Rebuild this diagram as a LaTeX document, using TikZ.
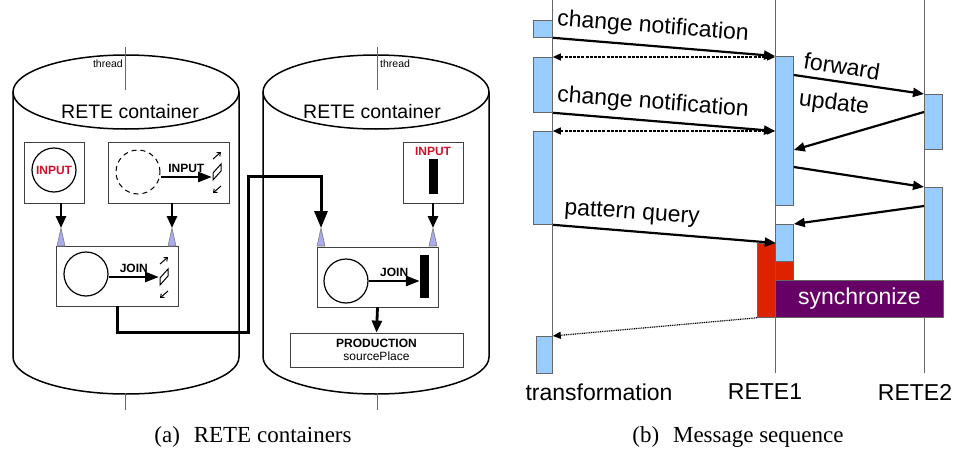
\documentclass[tikz,border=0pt]{standalone}
\usepackage{fontspec}
\setmainfont{Liberation Serif}
\setsansfont{Liberation Sans}
\usepackage{xcolor}
\usepackage{tikz}
\usetikzlibrary{arrows.meta}

\definecolor{actblue}{HTML}{99CCFF}
\definecolor{syncred}{HTML}{DD2200}
\definecolor{syncpurple}{HTML}{660066}
\definecolor{portblue}{HTML}{AAAAEE}
\definecolor{inred}{HTML}{D0102A}

\begin{document}
\begin{tikzpicture}[x=1pt, y=-1pt, font=\sffamily,
    cyl/.style={line width=1.5pt},
    thr/.style={black!60, line width=1pt},
    thrlbl/.style={inner sep=1pt, font=\sffamily\fontsize{10.5}{11}\selectfont},
    cont/.style={font=\sffamily\fontsize{19.5}{20}\selectfont},
    box/.style={draw=black!75, line width=0.8pt, inner sep=0pt},
    circ/.style={circle, draw, line width=1.2pt, minimum size=44pt, inner sep=0pt},
    bar/.style={fill=black, inner sep=0pt},
    lbl/.style={inner sep=1pt, font=\sffamily\bfseries\fontsize{12}{13}\selectfont},
    port/.style={fill=portblue, draw=black!50, line width=0.6pt},
    feed/.style={line width=2.8pt, -{Triangle[length=12pt, width=10pt]}},
    inarr/.style={line width=2.8pt, -{Triangle[length=14pt, width=10pt]}},
    link/.style={line width=3pt, -{Triangle[length=17pt, width=13pt]}},
    memsym/.pic={
        \draw[line width=1pt, -{Straight Barb[length=3pt, width=5pt]}] (-4,-13) -- (4,-20);
        \draw[line width=1pt] (-4,8) -- (-4,1) -- (4,-8) -- (4,-1) -- cycle;
        \draw[line width=1pt, -{Straight Barb[length=3pt, width=5pt]}] (4,14) -- (-4,21);
    },
    life/.style={black!60, line width=0.8pt},
    act/.style={draw=black!60, fill=actblue, line width=0.8pt, inner sep=0pt, anchor=north west},
    seqlbl/.style={inner sep=0pt, font=\sffamily\fontsize{23}{24}\selectfont},
    msg/.style={line width=2.2pt, -{Triangle[length=11pt, width=9pt]}},
    ret/.style={line width=1.4pt, dash pattern=on 3pt off 1.2pt,
        {Triangle[length=8pt, width=7pt]}-{Triangle[length=8pt, width=7pt]}},
    rep/.style={line width=1.2pt, dash pattern=on 1pt off 0.8pt, -{Triangle[length=8pt, width=7pt]}},
    captxt/.style={font=\rmfamily\fontsize{23}{24}\selectfont}]

    \useasboundingbox (0,0) rectangle (954,450);

    % (a) first RETE container
    \draw[cyl] (13,92) -- (13,357) arc[start angle=180, end angle=0, x radius=113, y radius=37] -- (239,92);
    \draw[cyl] (126,92) ellipse[x radius=113, y radius=37];
    \draw[thr] (125,47) -- (125,90);
    \draw[thr] (125,393) -- (125,410);
    \node[thrlbl, anchor=east] (th1) at (124,64) {thread};
    \node[cont] (rc1) at (130,112) {RETE container};

    \node[box, minimum width=60pt, minimum height=61pt] (in1) at (54,172.5) {};
    \node[circ, text=inred, font=\sffamily\bfseries\fontsize{12}{13}\selectfont] (c1) at (54,170) {INPUT};

    \node[box, minimum width=121pt, minimum height=61pt] (in2) at (168.5,172.5) {};
    \node[circ, line width=1pt, dash pattern=on 5pt off 4pt] (c2) at (138,172) {};
    \coordinate (m1) at (212,177);
    \draw[inarr] (c2.east |- m1) -- node[lbl, above=1.5pt] (l2) {INPUT} (m1);
    \pic at (217,172) {memsym};

    \node[box, minimum width=122pt, minimum height=60pt] (j1) at (117,276) {};
    \node[circ] (c3) at (86,274) {};
    \coordinate (m2) at (159,277);
    \draw[inarr] (c3.east |- m2) -- node[lbl, above=1.5pt] (l3) {JOIN} (m2);
    \pic at (164,277) {memsym};

    \coordinate (p1) at (61,228);
    \coordinate (p2) at (172,228);
    \filldraw[port] (p1) -- ++(-4,18) -- ++(8,0) -- cycle;
    \filldraw[port] (p2) -- ++(-4,18) -- ++(8,0) -- cycle;
    \draw[feed] (in1.south -| p1) -- (p1);
    \draw[feed] (in2.south -| p2) -- (p2);

    % (a) second RETE container
    \draw[cyl] (263,92) -- (263,357) arc[start angle=180, end angle=0, x radius=113, y radius=37] -- (489,92);
    \draw[cyl] (376,92) ellipse[x radius=113, y radius=37];
    \draw[thr] (377,47) -- (377,90);
    \draw[thr] (377,393) -- (377,410);
    \node[thrlbl, anchor=west] (th2) at (379,64) {thread};
    \node[cont] (rc2) at (372,112) {RETE container};

    \node[box, minimum width=60pt, minimum height=61pt] (in3) at (433,172.5) {};
    \node[lbl, text=inred] (l4) at (433,151) {INPUT};
    \node[bar, minimum width=9pt, minimum height=35pt] (b1) at (433.5,176.5) {};

    \node[box, minimum width=121pt, minimum height=60pt] (j2) at (377.5,277) {};
    \node[circ] (c4) at (346,281) {};
    \node[bar, minimum width=9pt, minimum height=43pt] (b2) at (424.5,276.5) {};
    \draw[inarr] (c4.east) -- node[lbl, above=1.5pt] (l5) {JOIN} (b2.west |- c4.east);

    \node[box, minimum width=173pt, minimum height=34pt, align=center,
        font=\sffamily\fontsize{12}{13}\selectfont] (pr) at (376.5,350) {\textbf{PRODUCTION}\\sourcePlace};
    \draw[feed] (j2.south) -- (pr.north);

    \coordinate (p3) at (321,228);
    \coordinate (p4) at (433,228);
    \filldraw[port] (p3) -- ++(-4,18) -- ++(8,0) -- cycle;
    \filldraw[port] (p4) -- ++(-4,18) -- ++(8,0) -- cycle;
    \draw[feed] (in3.south -| p4) -- (p4);

    % thread link between the containers
    \coordinate (k1) at (248,332);
    \coordinate (k2) at (248,176);
    \draw[link] (j1.south) |- (k1) -- (k2) -| (p3);

    \node[captxt] (capa) at (253,437) {(a)\hspace{0.6em}RETE containers};

    % (b) lifelines
    \coordinate (trtop) at (552,0);
    \coordinate (trbot) at (552,373);
    \coordinate (r1top) at (775,0);
    \coordinate (r1bot) at (775,373);
    \coordinate (r2top) at (924,0);
    \coordinate (r2bot) at (924,373);
    \draw[life] (trtop) -- (trbot);
    \draw[life] (r1top) -- (r1bot);
    \draw[life] (r2top) -- (r2bot);
    \node[seqlbl] (trl) at (599,392) {transformation};
    \node[seqlbl] (r1l) at (765,392) {RETE1};
    \node[seqlbl] (r2l) at (915,392) {RETE2};

    % (b) activations
    \node[act, minimum width=19pt, minimum height=17pt] (t1) at (533,20) {};
    \node[act, minimum width=19pt, minimum height=55pt] (t2) at (533,57) {};
    \node[act, minimum width=19pt, minimum height=93pt] (t3) at (533,131) {};
    \node[act, minimum width=16pt, minimum height=37pt] (t4) at (536,336) {};
    \node[act, minimum width=18pt, minimum height=149pt] (r1a) at (775,56) {};
    \node[act, minimum width=18pt, minimum height=37pt] (r1b) at (775,224) {};
    \node[act, fill=syncred, minimum width=18pt, minimum height=19pt] (r1c) at (775,261) {};
    \node[act, fill=syncred, minimum width=18pt, minimum height=74pt] (rb) at (757,243) {};
    \node[act, minimum width=18pt, minimum height=55pt] (r2a) at (924,94) {};
    \node[act, minimum width=18pt, minimum height=93pt] (r2b) at (924,187) {};
    \node[act, fill=syncpurple, minimum width=168pt, minimum height=37pt, text=white,
        font=\sffamily\fontsize{23}{24}\selectfont] (sync) at (775,280) {synchronize};

    % (b) messages
    \draw[msg] (t1.south east) -- (r1a.north west);
    \draw[ret] (t2.north east) -- ([yshift=-1pt]r1a.north west);
    \draw[msg] (t2.south east) -- (r1a.west |- t3.north east);
    \draw[ret] (t3.north east) -- (r1a.west |- t3.north east);
    \draw[msg] ([yshift=-19pt]r1a.north east) -- (r2a.north west);
    \draw[msg] ([yshift=-18pt]r2a.north west) -- ([yshift=-94pt]r1a.north east);
    \draw[msg] ([yshift=-111pt]r1a.north east) -- (r2b.north west);
    \draw[msg] ([yshift=-19pt]r2b.north west) -- (r1b.north east);
    \draw[msg] (t3.south east) -- (rb.north east);
    \draw[rep] (rb.south west) -- (t4.north east);

    \node[seqlbl, rotate=-4.5] (cn1) at (653,27) {change notification};
    \node[seqlbl, rotate=-4.5] (cn2) at (653,103) {change notification};
    \node[seqlbl, rotate=-9] (fw) at (842,66) {forward};
    \node[seqlbl, rotate=-7] (upd) at (834,104) {update};
    \node[seqlbl, rotate=-4] (pq) at (632,214) {pattern query};

    \node[captxt] (capb) at (738,437) {(b)\hspace{0.6em}Message sequence};

\end{tikzpicture}
\end{document}
